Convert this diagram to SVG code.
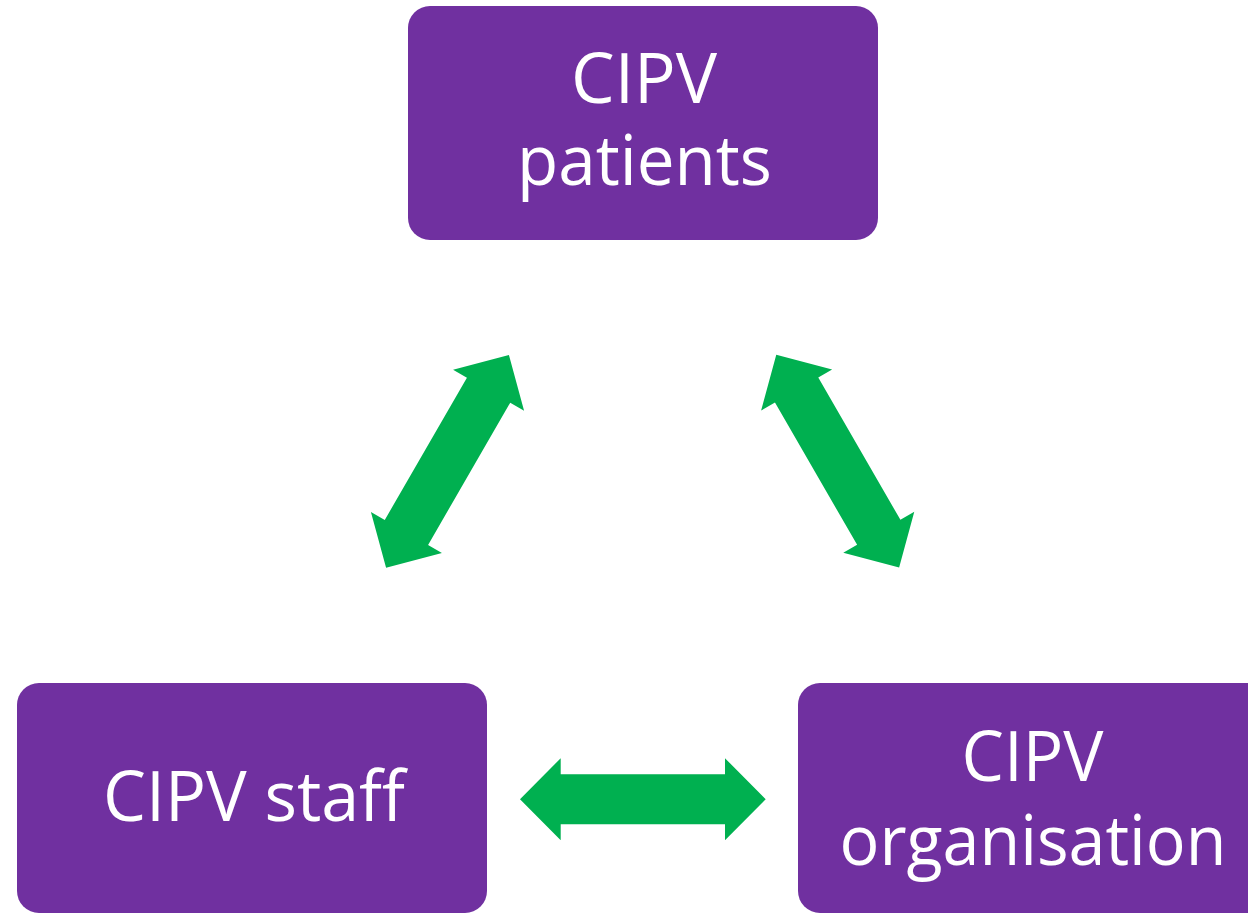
<svg xmlns="http://www.w3.org/2000/svg" xmlns:xlink="http://www.w3.org/1999/xlink" width="1248" height="913" viewBox="0 0 1248 913">
  <style>
    .box { fill: #7030A0; }
    .label { fill: #FFFFFF; font-family: "Open Sans", "Noto Sans", "DejaVu Sans", sans-serif; font-size: 70px; text-anchor: middle; }
    .arrow { fill: #00B050; }
  </style>
  <defs>
    <path id="dblarrow" d="M -122.85 0 L -82.15 -41 L -82.15 -25 L 82.15 -25 L 82.15 -41 L 122.85 0 L 82.15 41 L 82.15 25 L -82.15 25 L -82.15 41 Z"/>
  </defs>
  <rect width="1248" height="913" fill="#FFFFFF"/>
  <g id="node-patients">
    <rect class="box" x="408" y="6" width="470" height="234" rx="22" ry="22"/>
    <text class="label" x="644" y="103" textLength="146" lengthAdjust="spacingAndGlyphs">CIPV</text>
    <text class="label" x="644.5" y="185" textLength="255" lengthAdjust="spacingAndGlyphs">patients</text>
  </g>
  <g id="node-staff">
    <rect class="box" x="17" y="683" width="470" height="230" rx="22" ry="22"/>
    <text class="label" x="254" y="821" textLength="302" lengthAdjust="spacingAndGlyphs">CIPV staff</text>
  </g>
  <g id="node-organisation">
    <rect class="box" x="798" y="683" width="470" height="230" rx="22" ry="22"/>
    <text class="label" x="1032.5" y="781" textLength="142" lengthAdjust="spacingAndGlyphs">CIPV</text>
    <text class="label" x="1033" y="865" textLength="387" lengthAdjust="spacingAndGlyphs">organisation</text>
  </g>
  <g id="connectors">
    <use xlink:href="#dblarrow" class="arrow" transform="translate(447.5,461.3) rotate(-60)"/>
    <use xlink:href="#dblarrow" class="arrow" transform="translate(837.7,461.2) rotate(60)"/>
    <use xlink:href="#dblarrow" class="arrow" transform="translate(642.85,799.2)"/>
  </g>
</svg>
